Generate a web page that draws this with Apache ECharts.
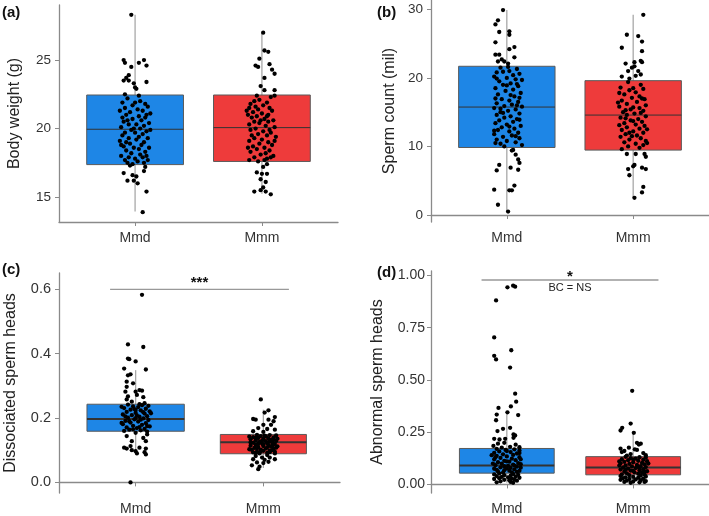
<!DOCTYPE html>
<html><head><meta charset="utf-8">
<script src="https://cdn.jsdelivr.net/npm/echarts@6/dist/echarts.min.js"></script>
<style>html,body{margin:0;padding:0;background:#fff}#c{width:709px;height:516px}</style>
</head><body><div id="c"></div>
<script>
// ---------------- DATA ----------------
var categories = ['Mmd', 'Mmm'];
var panelLabels = ['(a)', '(b)', '(c)', '(d)'];
var yTitles = ['Body weight (g)', 'Sperm count (mil)', 'Dissociated sperm heads', 'Abnormal sperm heads'];
var ticksA = [15, 20, 25];
var ticksB = [0, 10, 20, 30];
var ticksC = [0, 0.2, 0.4, 0.6];
var ticksD = [0, 0.25, 0.5, 0.75, 1];
// box stats: [q1, median, q3, whiskerLow, whiskerHigh]
var boxA_Mmd = [17.37, 19.95, 22.45, 13.95, 28.3];
var boxA_Mmm = [17.6, 20.07, 22.45, 15.25, 27.0];
var boxB_Mmd = [9.85, 15.75, 21.7, 0.45, 29.9];
var boxB_Mmm = [9.47, 14.58, 19.6, 2.5, 29.2];
var boxC_Mmd = [0.159, 0.197, 0.243, 0.092, 0.349];
var boxC_Mmm = [0.089, 0.125, 0.149, 0.045, 0.226];
var boxD_Mmd = [0.054, 0.09, 0.172, 0.008, 0.346];
var boxD_Mmm = [0.046, 0.081, 0.133, 0.008, 0.25];
// significance annotations
var sigC = {from: 0.8, to: 2.2, y: 0.6, star: '***', starY: 0.62};
var sigD = {from: 0.8, to: 2.2, y: 0.978, star: '*', starY: 0.995, note: 'BC = NS', noteY: 0.942};
// jittered points: [jitter offset (category units), value]
var ptsA_Mmd = [[-0.03,28.3],[-0.09,25.0],[-0.08,24.8],[0.07,25.0],[0.03,24.8],[0.09,24.6],[-0.03,24.5],[-0.05,23.9],[-0.07,23.7],[-0.09,23.5],[-0.05,23.5],[0.09,23.4],[-0.01,23.3],[0.0,23.0],[0.01,22.9],[-0.08,22.5],
[-0.06,22.2],[0.04,22.0],[-0.1,21.9],[0.08,21.8],[-0.02,21.7],[0.1,21.6],[-0.08,21.5],[0.02,21.4],[-0.12,21.3],[0.06,21.3],[-0.04,21.2],[0.12,21.1],[-0.07,21.0],[0.03,20.9],[-0.1,20.8],[0.08,20.8],[-0.02,20.7],[0.05,20.6],[-0.09,20.5],[0.11,20.4],[-0.05,20.3],[0.01,20.3],[0.07,20.2],[-0.11,20.1],[0.04,20.0],[-0.03,19.9],[0.09,19.8],[-0.08,19.7],[0.0,19.7],[0.06,19.6],[-0.1,19.5],[0.03,19.4],[-0.05,19.3],[0.1,19.3],[0.01,19.2],[-0.12,19.1],[0.07,19.0],[-0.04,18.9],[0.05,18.8],[-0.09,18.7],[0.11,18.6],[-0.01,18.6],[0.03,18.5],[-0.07,18.4],[0.08,18.3],[-0.03,18.2],[0.04,18.1],[-0.11,18.0],[0.06,17.9],[-0.05,17.9],[0.0,17.8],[0.1,17.7],[-0.08,17.7],[0.02,17.6],[-0.06,17.5],[0.07,17.5],[-0.02,17.4],[0.0,21.9],[0.09,21.0],[-0.06,20.6],[0.12,19.9],[-0.07,19.0],[0.09,18.0],[0.03,22.4],[-0.01,20.0],[-0.11,18.8],
[-0.04,17.3],[0.08,17.2],[-0.09,16.75],[0.07,16.9],[-0.02,16.6],[0.01,16.5],[-0.01,16.2],[-0.06,16.2],[0.02,16.0],[0.09,15.4],[0.06,13.9]];
var ptsA_Mmm = [[0.01,27.0],[0.02,25.7],[0.05,25.6],[-0.02,25.1],[-0.05,24.6],[-0.03,24.5],[0.06,24.7],[0.08,24.3],[0.1,24.0],[0.02,23.7],[-0.01,23.1],[0.02,22.8],[0.1,22.8],[-0.04,22.4],
[0.07,22.3],[-0.02,22.1],[-0.06,22.0],[0.04,21.9],[-0.09,21.8],[0.01,21.7],[-0.05,21.6],[-0.1,21.5],[0.06,21.5],[-0.03,21.4],[0.08,21.3],[-0.07,21.2],[0.0,21.1],[-0.11,21.0],[0.04,20.9],[-0.04,20.9],[-0.08,20.8],[0.02,20.7],[0.09,20.6],[-0.06,20.5],[0.05,20.5],[-0.02,20.4],[-0.1,20.3],[0.03,20.2],[0.1,20.1],[-0.05,20.0],[-0.09,19.9],[0.01,19.8],[0.07,19.7],[-0.03,19.6],[-0.08,19.5],[0.04,19.5],[0.11,19.4],[-0.06,19.3],[0.0,19.2],[-0.1,19.1],[0.05,19.0],[-0.02,18.9],[0.08,18.8],[-0.07,18.7],[0.02,18.6],[-0.04,18.5],[0.06,18.4],[-0.09,18.3],[0.03,18.2],[-0.01,18.1],[0.09,18.0],[-0.06,17.9],[0.04,17.8],[-0.1,17.7],[0.02,17.7],[-0.03,17.6],[0.1,22.4],[-0.12,21.3],[-0.01,20.6],[0.06,19.9],[0.1,19.1],[-0.11,18.6],[0.07,17.9],[0.05,21.0],
[0.04,17.4],[0.01,17.2],[-0.04,16.8],[0.0,16.7],[0.04,16.7],[-0.01,16.3],[0.03,16.1],[0.01,15.7],[-0.01,15.5],[-0.06,15.4],[0.03,15.4],[0.07,15.2]];
var ptsB_Mmd = [[-0.03,29.9],[-0.07,28.4],[-0.09,27.8],[-0.06,26.7],[0.02,26.8],[0.02,26.3],[0.06,24.5],[0.02,24.2],[-0.09,25.2],[-0.09,23.4],[-0.06,23.4],[0.06,23.0],[-0.04,22.7],[-0.02,22.4],[-0.07,22.4],[0.01,22.1],
[-0.05,21.5],[0.08,21.3],[0.02,21.0],[-0.08,20.8],[0.1,20.6],[0.05,20.4],[-0.1,20.2],[0.0,20.0],[0.07,19.8],[0.12,19.7],[-0.06,19.5],[0.03,19.2],[-0.03,19.0],[0.09,18.8],[-0.09,18.5],[0.05,18.3],[-0.01,18.1],[0.11,17.8],[-0.07,17.6],[0.06,17.3],[0.1,17.1],[-0.04,16.9],[0.02,16.7],[0.09,16.5],[-0.08,16.3],[0.04,16.1],[-0.02,15.9],[0.12,15.8],[-0.1,15.6],[0.07,15.4],[0.01,15.2],[-0.05,15.0],[0.1,14.8],[-0.08,14.6],[0.03,14.4],[-0.02,14.2],[0.08,14.0],[-0.06,13.8],[0.05,13.6],[-0.09,13.4],[0.0,13.2],[0.11,13.0],[-0.04,12.8],[0.06,12.6],[-0.07,12.4],[0.02,12.2],[0.09,12.0],[-0.1,11.8],[0.04,11.6],[-0.03,11.4],[0.1,11.2],[-0.08,11.0],[0.0,10.8],[0.07,10.6],[-0.05,10.4],[0.12,10.2],[-0.02,10.0],[0.01,21.6],[-0.03,20.9],[-0.08,19.9],[0.0,18.9],[0.03,17.5],[0.08,16.0],[-0.03,14.9],[0.1,13.9],[0.02,12.9],[0.07,11.5],[-0.09,10.5],[-0.05,15.5],[-0.09,17.0],[-0.1,12.3],[0.08,19.1],
[0.05,9.5],[0.04,9.4],[0.07,8.8],[0.09,8.1],[0.1,7.6],[-0.06,7.3],[0.03,6.9],[0.09,6.6],[-0.08,6.5],[0.06,4.3],[-0.1,3.7],[0.02,3.6],[0.04,3.6],[-0.07,1.5],[0.01,0.5]];
var ptsB_Mmm = [[0.08,29.2],[-0.05,26.3],[0.04,26.1],[0.07,25.3],[-0.09,24.4],[0.07,23.9],[0.06,22.5],[0.07,22.3],[-0.06,22.1],[0.01,22.3],[0.01,21.7],[-0.01,21.5],[-0.04,21.0],[0.04,21.0],[0.06,20.5],[-0.09,20.2],[-0.03,19.9],[0.02,20.3],
[-0.04,19.4],[0.06,19.0],[-0.1,18.6],[0.08,18.4],[-0.03,18.2],[0.02,17.9],[-0.07,17.6],[0.05,17.3],[-0.01,17.1],[0.09,16.9],[-0.09,16.7],[0.03,16.5],[-0.05,16.2],[0.1,16.0],[-0.11,15.8],[0.05,15.6],[-0.02,15.4],[0.08,15.2],[-0.08,15.0],[0.01,14.8],[-0.05,14.6],[0.1,14.4],[-0.1,14.2],[0.04,14.0],[-0.02,13.8],[0.07,13.6],[-0.07,13.4],[0.02,13.2],[0.09,13.0],[-0.05,12.8],[0.05,12.6],[-0.09,12.4],[0.0,12.2],[0.08,12.0],[-0.06,11.8],[0.03,11.6],[-0.1,11.4],[0.06,11.2],[-0.03,11.0],[0.1,10.8],[-0.07,10.6],[0.02,10.4],[0.08,10.2],[-0.04,10.0],[0.05,9.8],[-0.09,9.6],[0.0,18.5],[0.07,17.0],[-0.12,16.4],[0.0,15.7],[0.06,14.9],[-0.06,14.1],[-0.11,13.1],[0.11,12.5],[-0.01,11.5],[0.11,10.5],[-0.11,17.8],[0.0,13.7],[-0.06,15.3],[-0.03,12.0],
[-0.05,8.9],[0.02,8.9],[0.09,8.9],[0.1,8.5],[0.01,7.3],[0.0,7.1],[0.07,6.9],[0.1,6.7],[-0.04,6.7],[-0.03,5.8],[0.08,4.1],[0.07,3.3],[0.01,2.5]];
var ptsC_Mmd = [[0.05,0.583],[-0.06,0.429],[0.06,0.421],[-0.06,0.385],[-0.05,0.383],[0.0,0.376],[-0.09,0.354],[0.08,0.351],[-0.04,0.336],[-0.06,0.333],[-0.07,0.313],[-0.02,0.308],[0.03,0.287],[0.0,0.282],[-0.07,0.297],[-0.08,0.282],[0.05,0.285],[-0.06,0.267],[0.01,0.272],[0.06,0.265],[-0.07,0.258],[-0.03,0.251],[0.07,0.246],[0.03,0.243],
[-0.06,0.242],[0.05,0.240],[0.1,0.238],[-0.02,0.236],[0.02,0.234],[-0.09,0.231],[0.08,0.229],[-0.04,0.226],[0.04,0.224],[0.11,0.221],[-0.07,0.219],[0.0,0.216],[0.07,0.214],[-0.1,0.211],[-0.03,0.209],[0.09,0.206],[0.03,0.204],[-0.06,0.201],[0.06,0.199],[-0.01,0.196],[0.1,0.194],[-0.08,0.191],[0.02,0.189],[-0.04,0.186],[0.08,0.184],[-0.1,0.181],[0.05,0.179],[-0.02,0.176],[0.11,0.174],[-0.07,0.171],[0.01,0.169],[0.07,0.166],[-0.05,0.164],[0.04,0.162],[-0.09,0.160],[0.09,0.158],[-0.11,0.235],[0.0,0.225],[0.12,0.215],[-0.08,0.205],[0.04,0.195],[-0.11,0.185],[0.09,0.175],[-0.02,0.165],[0.06,0.218],[0.0,0.2],[-0.05,0.19],[0.01,0.208],[0.03,0.172],[-0.01,0.228],
[0.0,0.154],[0.09,0.149],[-0.07,0.144],[0.06,0.138],[-0.03,0.128],[0.08,0.128],[-0.04,0.113],[-0.09,0.108],[-0.07,0.105],[0.03,0.108],[0.08,0.105],[-0.03,0.1],[0.0,0.097],[0.07,0.094],[0.01,0.09],[0.08,0.087],[-0.04,0.0]];
var ptsC_Mmm = [[-0.02,0.258],[0.04,0.224],[0.01,0.217],[0.09,0.203],[-0.08,0.197],[-0.06,0.195],[0.04,0.195],[0.08,0.19],[0.06,0.179],[0.0,0.179],[-0.04,0.169],[0.03,0.166],[0.09,0.164],[-0.08,0.159],[0.0,0.157],
[-0.05,0.148],[0.05,0.147],[0.1,0.146],[-0.02,0.144],[0.02,0.143],[-0.08,0.141],[0.08,0.140],[-0.04,0.138],[0.04,0.137],[0.0,0.135],[-0.1,0.134],[0.06,0.132],[-0.06,0.131],[0.1,0.129],[0.02,0.128],[-0.03,0.126],[0.07,0.125],[-0.08,0.123],[0.03,0.122],[-0.01,0.120],[0.09,0.119],[-0.06,0.117],[0.04,0.116],[-0.1,0.114],[0.0,0.113],[0.06,0.111],[-0.04,0.110],[0.1,0.108],[-0.07,0.107],[0.02,0.105],[0.08,0.104],[-0.02,0.102],[-0.09,0.101],[0.05,0.099],[0.0,0.098],[-0.05,0.096],[0.09,0.095],[-0.08,0.093],[0.03,0.092],[-0.03,0.090],[-0.11,0.142],[0.11,0.136],[-0.01,0.13],[-0.1,0.124],[0.0,0.118],[0.11,0.112],[-0.05,0.106],[0.07,0.1],[0.05,0.094],[0.09,0.09],[0.01,0.145],[-0.06,0.139],[0.05,0.127],[-0.04,0.121],[0.07,0.115],[0.03,0.109],[-0.11,0.103],[-0.02,0.097],[-0.06,0.091],[0.08,0.133],
[0.03,0.085],[-0.06,0.082],[-0.01,0.077],[0.05,0.077],[-0.08,0.072],[0.01,0.07],[0.09,0.072],[-0.05,0.062],[0.0,0.06],[0.04,0.064],[-0.09,0.053],[-0.03,0.049],[-0.04,0.041]];
var ptsD_Mmd = [[0.005,0.943],[0.05,0.951],[0.066,0.946],[-0.085,0.88],[-0.1,0.703],[-0.1,0.615],[-0.085,0.598],[0.035,0.642],[0.026,0.559],[0.066,0.434],[0.074,0.396],[-0.066,0.366],[0.032,0.373],[0.09,0.332],[-0.08,0.334],[0.005,0.345],[-0.085,0.307],[-0.03,0.266],[0.026,0.271],[-0.074,0.255],[0.066,0.234],[0.053,0.223],[-0.1,0.218],[-0.058,0.215],[-0.013,0.218],[0.053,0.239],[-0.02,0.199],[-0.106,0.184],[-0.04,0.176],[0.026,0.18],[0.07,0.19],[-0.07,0.195],[0.1,0.178],
[-0.08,0.170],[0.06,0.168],[-0.01,0.165],[0.1,0.162],[-0.06,0.158],[0.03,0.155],[-0.1,0.151],[0.08,0.148],[-0.03,0.144],[0.05,0.141],[-0.08,0.137],[0.0,0.134],[0.1,0.130],[-0.05,0.127],[0.04,0.123],[-0.1,0.120],[0.07,0.116],[-0.02,0.113],[0.02,0.109],[-0.07,0.106],[0.09,0.102],[-0.04,0.099],[0.05,0.095],[-0.09,0.092],[0.01,0.089],[0.08,0.085],[-0.05,0.082],[0.03,0.079],[-0.1,0.075],[0.06,0.072],[-0.02,0.068],[0.1,0.065],[-0.07,0.062],[0.04,0.058],[-0.03,0.056],[0.0,0.16],[-0.12,0.14],[0.11,0.12],[-0.11,0.1],[0.06,0.09],[0.11,0.08],[-0.08,0.07],[0.08,0.06],[0.0,0.11],[-0.09,0.13],[0.1,0.15],[-0.02,0.087],[0.0,0.077],[0.02,0.066],[0.11,0.097],
[-0.06,0.052],[0.05,0.050],[-0.1,0.048],[0.09,0.046],[-0.02,0.044],[0.03,0.042],[-0.08,0.040],[0.07,0.038],[-0.04,0.036],[0.01,0.034],[0.1,0.032],[-0.06,0.030],[0.04,0.028],[-0.1,0.026],[0.06,0.024],[-0.02,0.022],[0.02,0.020],[0.08,0.018],[-0.05,0.015],[0.03,0.012],[-0.08,0.01],[0.05,0.008]];
var ptsD_Mmm = [[-0.008,0.448],[-0.02,0.291],[-0.087,0.271],[-0.1,0.258],[0.005,0.247],[0.03,0.199],[0.045,0.191],[-0.034,0.176],[-0.1,0.171],[0.013,0.168],[0.06,0.195],[-0.07,0.16],[0.08,0.15],[-0.02,0.145],[0.1,0.14],[-0.09,0.155],[0.03,0.165],[-0.05,0.138],
[-0.06,0.132],[0.05,0.130],[0.1,0.128],[-0.02,0.126],[0.02,0.123],[-0.09,0.121],[0.08,0.118],[-0.04,0.116],[0.04,0.113],[0.11,0.111],[-0.07,0.108],[0.0,0.106],[0.07,0.103],[-0.1,0.101],[-0.03,0.098],[0.09,0.096],[0.03,0.093],[-0.06,0.091],[0.06,0.088],[-0.01,0.086],[0.1,0.083],[-0.08,0.081],[0.02,0.078],[-0.04,0.076],[0.08,0.073],[-0.1,0.071],[0.05,0.068],[-0.02,0.066],[0.11,0.063],[-0.07,0.061],[0.01,0.058],[0.07,0.056],[-0.05,0.053],[0.04,0.051],[-0.09,0.048],[0.09,0.047],[0.0,0.12],[0.12,0.1],[-0.11,0.09],[0.05,0.08],[-0.06,0.07],[0.09,0.06],[-0.11,0.11],[0.03,0.085],[0.0,0.065],
[-0.03,0.044],[0.06,0.042],[-0.1,0.040],[0.1,0.038],[0.0,0.036],[-0.06,0.034],[0.04,0.032],[-0.08,0.030],[0.08,0.028],[-0.03,0.026],[0.02,0.024],[-0.1,0.022],[0.06,0.020],[-0.05,0.018],[0.1,0.016],[0.0,0.014],[-0.07,0.012],[0.05,0.010],[-0.02,0.008],[0.09,0.012]];

// ---------------- STYLE / LAYOUT ----------------
var FONT = '"Liberation Sans", Arial, sans-serif';
var BLUE = '#1E86E6', RED = '#EE3B3B';
var grids = [
  {left: 59, top: 5, width: 279, height: 217},
  {left: 431, top: 0, width: 285, height: 222},
  {left: 59, top: 273, width: 281, height: 222},
  {left: 431, top: 271, width: 278, height: 224}
];
var yRanges = [[13.18, 29.02], [-1.02, 31.37], [-0.033, 0.651], [-0.041, 1.021]];
var yTicks = [ticksA, ticksB, ticksC, ticksD];
var yDigits = [0, 0, 1, 2];
var yLabelSize = [13.5, 13.5, 14.5, 14];
var yLabelMargin = [8, 8, 8, 6];
var nameGaps = [36, 33, 40, 45];
var boxWidths = [[0.763, 0.763], [0.763, 0.763], [0.762, 0.674], [0.75, 0.75]];
var medianW = [1, 1, 2, 2];
var boxes = [[boxA_Mmd, boxA_Mmm], [boxB_Mmd, boxB_Mmm], [boxC_Mmd, boxC_Mmm], [boxD_Mmd, boxD_Mmm]];
var points = [[ptsA_Mmd, ptsA_Mmm], [ptsB_Mmd, ptsB_Mmm], [ptsC_Mmd, ptsC_Mmm], [ptsD_Mmd, ptsD_Mmm]];
var AXC = '#8a8a8a';

var option = {animation: false, backgroundColor: '#fff', grid: grids, xAxis: [], yAxis: [], series: [], title: []};
var labelPos = [[2, 5], [377, 5], [2, 262], [377, 265]];
panelLabels.forEach(function (t, i) {
  option.title.push({text: t, left: labelPos[i][0], top: labelPos[i][1], padding: 0,
    textStyle: {fontFamily: FONT, fontSize: 15, fontWeight: 'bold', color: '#111'}});
});

for (var p = 0; p < 4; p++) {
  option.xAxis.push({
    type: 'value', gridIndex: p, min: 0.4, max: 2.6,
    axisLine: {show: true, lineStyle: {color: AXC, width: 1.3}},
    axisTick: {show: true, customValues: [1, 2], length: 4, lineStyle: {color: AXC}},
    axisLabel: {customValues: [1, 2], margin: 9, fontFamily: FONT, fontSize: 14, color: '#333',
      formatter: function (v) { return categories[Math.round(v) - 1] || ''; }},
    splitLine: {show: false}
  });
  (function (p) {
    option.yAxis.push({
      type: 'value', gridIndex: p, min: yRanges[p][0], max: yRanges[p][1],
      name: yTitles[p], nameLocation: 'middle', nameGap: nameGaps[p],
      nameTextStyle: {fontFamily: FONT, fontSize: 16, color: '#222'},
      axisLine: {show: true, lineStyle: {color: AXC, width: 1.3}},
      axisTick: {show: true, customValues: yTicks[p], length: 4, lineStyle: {color: AXC}},
      axisLabel: {customValues: yTicks[p], margin: yLabelMargin[p], fontFamily: FONT, fontSize: yLabelSize[p], color: '#333',
        formatter: function (v) { return Number(v).toFixed(yDigits[p]); }},
      splitLine: {show: false}
    });
  })(p);

  var boxData = boxes[p].map(function (b, k) { return [k + 1].concat(b); });
  (function (p) {
    option.series.push({
      type: 'custom', xAxisIndex: p, yAxisIndex: p, z: 2, data: boxData,
      encode: {x: 0, y: [1, 2, 3, 4, 5]},
      renderItem: function (params, api) {
        var k = params.dataIndex;
        var x = api.value(0), q1 = api.value(1), med = api.value(2), q3 = api.value(3), lo = api.value(4), hi = api.value(5);
        var hw = boxWidths[p][k] / 2;
        var a = api.coord([x, lo]), b = api.coord([x, hi]);
        var tl = api.coord([x - hw, q3]), br = api.coord([x + hw, q1]);
        var m1 = api.coord([x - hw, med]), m2 = api.coord([x + hw, med]);
        return {type: 'group', children: [
          {type: 'line', shape: {x1: a[0], y1: a[1], x2: b[0], y2: b[1]}, style: {stroke: '#a8a8a8', lineWidth: 1.3}},
          {type: 'rect', shape: {x: tl[0], y: tl[1], width: br[0] - tl[0], height: br[1] - tl[1]},
            style: {fill: k === 0 ? BLUE : RED, stroke: '#5a5a5a', lineWidth: 1}},
          {type: 'line', shape: {x1: m1[0], y1: m1[1], x2: m2[0], y2: m2[1]}, style: {stroke: '#333', lineWidth: medianW[p]}}
        ]};
      }
    });
  })(p);
  var sc = [];
  points[p].forEach(function (arr, k) {
    arr.forEach(function (d) { sc.push([k + 1 + d[0], d[1]]); });
  });
  option.series.push({type: 'scatter', xAxisIndex: p, yAxisIndex: p, z: 3, data: sc,
    symbolSize: 4.3, itemStyle: {color: '#000', opacity: 1}, silent: true});
}

function sigSeries(p, s) {
  return {
    type: 'custom', xAxisIndex: p, yAxisIndex: p, z: 4, data: [[s.from, s.to, s.y]],
    encode: {x: [0, 1], y: 2},
    renderItem: function (params, api) {
      var a = api.coord([api.value(0), api.value(2)]), b = api.coord([api.value(1), api.value(2)]);
      var c = api.coord([(s.from + s.to) / 2, s.starY]);
      var ch = [
        {type: 'line', shape: {x1: a[0], y1: a[1], x2: b[0], y2: b[1]}, style: {stroke: '#999', lineWidth: 1.3}},
        {type: 'text', x: c[0], y: c[1], style: {text: s.star, fontFamily: FONT, fontSize: 15, fontWeight: 'bold', fill: '#111', align: 'center', verticalAlign: 'middle'}}
      ];
      if (s.note) {
        var n = api.coord([(s.from + s.to) / 2, s.noteY]);
        ch.push({type: 'text', x: n[0], y: n[1], style: {text: s.note, fontFamily: FONT, fontSize: 11, fill: '#222', align: 'center', verticalAlign: 'middle'}});
      }
      return {type: 'group', children: ch};
    }
  };
}
option.series.push(sigSeries(2, sigC));
option.series.push(sigSeries(3, sigD));

var chart = echarts.init(document.getElementById('c'), null, {renderer: 'canvas'});
chart.setOption(option);
</script>
</body></html>
